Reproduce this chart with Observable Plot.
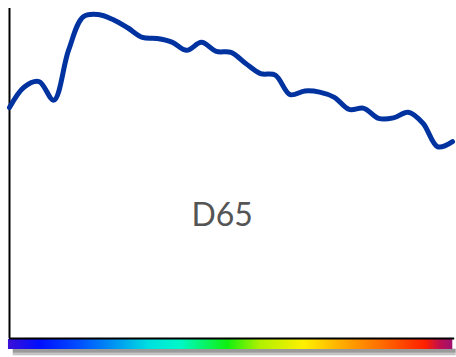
<!DOCTYPE html>
<html>
<head>
<meta charset="utf-8">
<script src="https://cdn.jsdelivr.net/npm/d3@7"></script>
<script src="https://cdn.jsdelivr.net/npm/@observablehq/plot@0.6"></script>
<style>
  html, body { margin: 0; padding: 0; background: #fff; }
  #chart svg { display: block; }
</style>
</head>
<body>
<div id="chart"></div>
<script>
// D65 relative spectral power, 400–700 nm
const wavelengths = [400,410,420,430,440,450,460,470,480,490,500,510,520,530,540,550,560,570,580,590,600,610,620,630,640,650,660,670,680,690,700];
const power = [84.0,91.49,93.43,86.68,104.86,117.01,117.81,116.0,113.0,109.5,109.1,107.80,104.79,107.69,104.41,104.05,100.00,96.33,95.79,88.69,90.01,89.60,87.70,83.29,83.70,80.03,80.21,82.28,78.28,69.72,71.61];
const label = "D65";

// spectrum colour stops (nm → colour)
const stopNm = [400,421,448,475,495,516,548,570,600,624,651,682,692,700];
const stopColor = ["#3a10d8","#0010ff","#0050ff","#00a0f0","#00e0e0","#00f8c8","#10f010","#b0f000","#fff000","#ffb000","#ff7000","#ff2000","#c01050","#a01070"];

const spd = wavelengths.map((w, i) => ({w, p: power[i]}));
const band = d3.range(400, 700, 1).map(w => ({w}));

const plot = Plot.plot({
  width: 456,
  height: 357,
  marginLeft: 9, marginRight: 4, marginTop: 8, marginBottom: 19,
  x: {domain: [400, 700], range: [9, 452], axis: null},
  y: {domain: [0, 120], range: [338, 8], axis: null},
  color: {type: "linear", domain: stopNm, range: stopColor, interpolate: "rgb"},
  marks: [
    // shadow under the spectrum bar
    Plot.rect([0], {x1: 402.5, x2: 702.5, y1: -3.9, y2: -5.4, fill: "#9a9a9a"}),
    Plot.rect([0], {x1: 402.5, x2: 702.5, y1: -5.4, y2: -6.3, fill: "#c4c4c4"}),
    // spectrum bar
    Plot.rect(band, {x1: d => d.w - 0.7, x2: d => d.w + 1.2, y1: -4.0, y2: -0.3, fill: "w"}),
    // axes
    Plot.ruleX([400], {y1: 0, y2: 120, stroke: "#000", strokeWidth: 2}),
    Plot.ruleY([0], {x1: 400, x2: 701.5, stroke: "#000", strokeWidth: 2}),
    // curve
    Plot.line(spd, {x: "w", y: "p", stroke: "#0033a0", strokeWidth: 5, curve: "catmull-rom", strokeLinecap: "round"}),
    // label
    Plot.text([label], {x: 544, y: 44.5, text: d => d, fontSize: 32, fontFamily: "Lato", fontWeight: 400, fill: "#555", textAnchor: "middle"})
  ]
});
document.getElementById("chart").appendChild(plot);
</script>
</body>
</html>
